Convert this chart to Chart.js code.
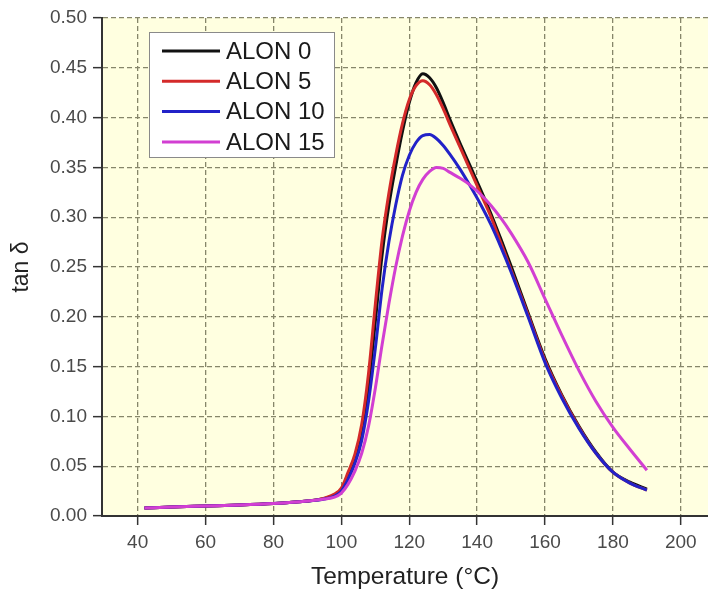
<!DOCTYPE html>
<html><head><meta charset="utf-8">
<script src="https://cdn.jsdelivr.net/npm/chart.js@4/dist/chart.umd.min.js"></script>
<style>html,body{margin:0;padding:0;background:#fff}#wrap{width:708px;height:594px}</style>
</head><body><div id="wrap"><canvas id="c" width="708" height="594"></canvas></div>
<script>
const temperature = [42,50,60,70,80,90,95,98,100,102,104,106,108,110,112,114,116,118,120,122,124,126,128,130,132,135,138,141,144,147,150,155,160,165,170,175,180,185,190];
const alon0  = [0.008,0.009,0.010,0.011,0.0125,0.015,0.0175,0.021,0.026,0.040,0.056,0.082,0.130,0.195,0.262,0.312,0.351,0.386,0.415,0.435,0.444,0.440,0.430,0.415,0.398,0.374,0.351,0.328,0.304,0.278,0.251,0.204,0.158,0.121,0.090,0.064,0.044,0.034,0.027];
const alon5  = [0.008,0.009,0.010,0.011,0.0125,0.015,0.018,0.022,0.028,0.044,0.062,0.092,0.143,0.212,0.277,0.324,0.362,0.394,0.418,0.432,0.437,0.433,0.423,0.409,0.393,0.370,0.347,0.324,0.301,0.274,0.247,0.202,0.156,0.120,0.089,0.063,0.044,0.033,0.026];
const alon10 = [0.008,0.009,0.010,0.011,0.0125,0.015,0.017,0.020,0.025,0.037,0.053,0.076,0.115,0.168,0.228,0.275,0.312,0.342,0.362,0.375,0.382,0.383,0.379,0.372,0.363,0.348,0.331,0.313,0.293,0.270,0.245,0.200,0.154,0.118,0.088,0.063,0.044,0.033,0.026];
const alon15 = [0.008,0.009,0.010,0.011,0.0125,0.015,0.017,0.019,0.023,0.032,0.045,0.063,0.090,0.128,0.172,0.213,0.250,0.281,0.306,0.325,0.338,0.346,0.350,0.349,0.345,0.339,0.332,0.323,0.312,0.299,0.284,0.255,0.218,0.181,0.146,0.115,0.089,0.067,0.046];
const seriesLabels = ['ALON 0','ALON 5','ALON 10','ALON 15'];
const seriesColors = ['#111111','#d42a2a','#2222c8','#d23fd2'];
const xTicks = [40,60,80,100,120,140,160,180,200];
const yTicks = [0,0.05,0.10,0.15,0.20,0.25,0.30,0.35,0.40,0.45,0.50];

const seriesValues = [alon0, alon5, alon10, alon15];
const FONT = "'Liberation Sans', Arial, sans-serif";

const bgPlugin = {
  id: 'bg',
  beforeDraw(chart) {
    const {ctx, chartArea: a} = chart;
    ctx.save();
    ctx.fillStyle = '#ffffff';
    ctx.fillRect(0, 0, chart.width, chart.height);
    ctx.fillStyle = '#ffffe0';
    ctx.fillRect(a.left, a.top, a.right - a.left, a.bottom - a.top);
    ctx.restore();
  }
};

const legendPlugin = {
  id: 'boxLegend',
  afterDatasetsDraw(chart) {
    const ctx = chart.ctx;
    const x = 149, y = 32, w = 185, h = 125;
    ctx.save();
    ctx.fillStyle = '#ffffff';
    ctx.fillRect(x, y, w, h);
    ctx.strokeStyle = '#8a8a8a';
    ctx.lineWidth = 1;
    ctx.strokeRect(x + 0.5, y + 0.5, w, h);
    ctx.font = "24px " + FONT;
    ctx.textBaseline = 'middle';
    ctx.textAlign = 'left';
    seriesLabels.forEach((lab, i) => {
      const ly = 51 + i * 30.3;
      ctx.strokeStyle = seriesColors[i];
      ctx.lineWidth = 3;
      ctx.beginPath();
      ctx.moveTo(162, ly);
      ctx.lineTo(220, ly);
      ctx.stroke();
      ctx.fillStyle = '#1a1a1a';
      ctx.fillText(lab, 226, ly + 1);
    });
    ctx.restore();
  }
};

const datasets = seriesLabels.map((lab, i) => ({
  label: lab,
  data: temperature.map((t, k) => ({x: t, y: seriesValues[i][k]})),
  borderColor: seriesColors[i],
  backgroundColor: seriesColors[i],
  borderWidth: 3,
  pointRadius: 0,
  cubicInterpolationMode: 'monotone',
  fill: false,
  order: 4 - i
}));

const gridOpts = {
  color: '#86866a',
  lineWidth: 1.3,
  drawTicks: true,
  tickLength: 9,
  tickColor: '#333333',
  tickWidth: 1.5,
  tickBorderDash: []
};

new Chart(document.getElementById('c'), {
  type: 'line',
  data: { datasets },
  plugins: [bgPlugin, legendPlugin],
  options: {
    responsive: false,
    animation: false,
    devicePixelRatio: 1,
    layout: { padding: { top: 18, right: 0, left: 0, bottom: 0 } },
    plugins: { legend: { display: false }, tooltip: { enabled: false } },
    scales: {
      x: {
        type: 'linear',
        min: 29.5,
        max: 208,
        afterBuildTicks(s) { s.ticks = xTicks.map(v => ({value: v})); },
        afterFit(s) { s.height = 78; },
        grid: gridOpts,
        border: { display: true, color: '#333333', width: 2, dash: [5, 3] },
        ticks: {
          color: '#4a4a4a',
          font: { family: FONT, size: 19 },
          padding: 6,
          maxRotation: 0,
          callback: v => String(v)
        },
        title: {
          display: true,
          text: 'Temperature (°C)',
          color: '#222222',
          font: { family: FONT, size: 24.5 },
          padding: { top: 0, bottom: 2 }
        }
      },
      y: {
        type: 'linear',
        min: 0,
        max: 0.5,
        afterBuildTicks(s) { s.ticks = yTicks.map(v => ({value: v})); },
        afterFit(s) { s.width = 102; },
        grid: gridOpts,
        border: { display: true, color: '#333333', width: 2, dash: [5, 3] },
        ticks: {
          color: '#4a4a4a',
          font: { family: FONT, size: 19 },
          padding: 6,
          callback: v => Number(v).toFixed(2)
        },
        title: {
          display: true,
          text: 'tan δ',
          color: '#222222',
          font: { family: FONT, size: 23 },
          padding: { top: 8, bottom: 0 }
        }
      }
    }
  }
});
</script>
</body></html>
